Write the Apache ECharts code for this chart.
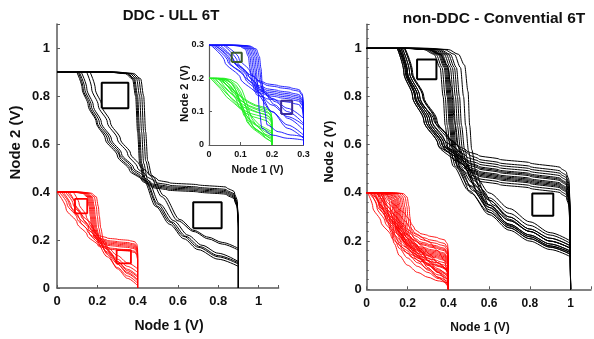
<!DOCTYPE html>
<html><head><meta charset="utf-8">
<script src="https://cdn.jsdelivr.net/npm/echarts/dist/echarts.min.js"></script>
<style>html,body{margin:0;padding:0;background:#fff}#c{width:594px;height:339px}</style>
</head><body><div id="c"></div>
<script>
// ---- tick values / labels ----
const mainTicks = [0, 0.2, 0.4, 0.6, 0.8, 1];
const mainTickText = ['0', '0.2', '0.4', '0.6', '0.8', '1'];
const insetTicks = [0, 0.1, 0.2, 0.3];
const insetTickText = ['0', '0.1', '0.2', '0.3'];

// ---- curves: each is a flat list of [Vin, Vout] pairs ----
// family A drawn as (Vin, Vout), family B (the other inverter) drawn as (Vout, Vin)
const ddcBlackA = [
 [0,0.9,0.25,0.9,0.34,0.893,0.375,0.87,0.39,0.8,0.4,0.65,0.41,0.52,0.43,0.45,0.49,0.34,0.56,0.265,0.63,0.205,0.7,0.16,0.8,0.12,0.9,0.09],
 [0,0.9,0.25,0.9,0.345,0.894,0.38,0.872,0.395,0.8,0.405,0.65,0.415,0.52,0.435,0.45,0.5,0.34,0.56,0.275,0.63,0.215,0.7,0.17,0.8,0.13,0.9,0.1],
 [0,0.9,0.26,0.9,0.35,0.894,0.385,0.872,0.4,0.8,0.41,0.65,0.42,0.52,0.44,0.45,0.5,0.35,0.57,0.275,0.64,0.215,0.71,0.172,0.8,0.135,0.9,0.105],
 [0,0.9,0.27,0.9,0.36,0.894,0.395,0.872,0.41,0.8,0.42,0.65,0.43,0.52,0.45,0.45,0.51,0.35,0.58,0.28,0.65,0.22,0.72,0.178,0.8,0.145,0.9,0.11],
 [0,0.9,0.28,0.9,0.37,0.894,0.405,0.872,0.42,0.8,0.43,0.65,0.44,0.53,0.46,0.47,0.52,0.38,0.6,0.28,0.68,0.235,0.75,0.205,0.82,0.183,0.9,0.158],
 [0,0.9,0.29,0.9,0.38,0.894,0.415,0.872,0.43,0.8,0.44,0.65,0.45,0.53,0.47,0.47,0.53,0.385,0.61,0.285,0.68,0.24,0.75,0.212,0.82,0.19,0.9,0.165]
];
const ddcBlackB = [
 [0,0.9,0.25,0.9,0.33,0.895,0.37,0.88,0.39,0.84,0.4,0.7,0.408,0.55,0.42,0.47,0.45,0.42,0.49,0.36,0.55,0.3,0.62,0.24,0.69,0.195,0.76,0.155,0.83,0.125,0.9,0.098],
 [0,0.9,0.25,0.9,0.335,0.895,0.375,0.88,0.395,0.84,0.405,0.7,0.413,0.55,0.425,0.47,0.455,0.42,0.49,0.37,0.55,0.31,0.62,0.25,0.69,0.2,0.76,0.162,0.83,0.13,0.9,0.105],
 [0,0.9,0.26,0.9,0.34,0.895,0.38,0.88,0.4,0.84,0.41,0.7,0.418,0.55,0.43,0.47,0.46,0.42,0.5,0.37,0.56,0.31,0.62,0.26,0.69,0.21,0.76,0.17,0.83,0.138,0.9,0.11],
 [0,0.9,0.27,0.9,0.345,0.895,0.385,0.88,0.405,0.84,0.415,0.7,0.423,0.55,0.435,0.47,0.465,0.43,0.5,0.38,0.56,0.32,0.62,0.27,0.69,0.22,0.76,0.18,0.83,0.148,0.9,0.12],
 [0,0.9,0.27,0.9,0.35,0.895,0.39,0.88,0.41,0.84,0.42,0.7,0.428,0.56,0.44,0.49,0.47,0.44,0.5,0.4,0.56,0.35,0.62,0.3,0.69,0.25,0.76,0.205,0.83,0.172,0.9,0.147],
 [0,0.9,0.28,0.9,0.36,0.895,0.4,0.88,0.42,0.84,0.43,0.7,0.438,0.56,0.45,0.5,0.48,0.45,0.51,0.41,0.56,0.365,0.62,0.315,0.69,0.265,0.76,0.222,0.83,0.19,0.9,0.164]
];
const ddcRedA = [
 [0,0.4,0.075,0.4,0.125,0.395,0.15,0.38,0.16,0.34,0.165,0.3,0.172,0.25,0.185,0.21,0.25,0.13,0.3,0.085,0.35,0.05,0.4,0.02],
 [0,0.4,0.08,0.4,0.13,0.395,0.155,0.38,0.165,0.34,0.17,0.3,0.177,0.25,0.19,0.21,0.25,0.15,0.3,0.11,0.35,0.078,0.4,0.05],
 [0,0.4,0.085,0.4,0.135,0.395,0.16,0.38,0.17,0.34,0.175,0.3,0.182,0.25,0.195,0.21,0.25,0.145,0.3,0.1,0.35,0.065,0.4,0.035],
 [0,0.4,0.09,0.4,0.14,0.395,0.165,0.38,0.175,0.34,0.18,0.3,0.187,0.25,0.2,0.21,0.25,0.16,0.3,0.12,0.35,0.09,0.4,0.065],
 [0,0.4,0.095,0.4,0.145,0.395,0.17,0.38,0.18,0.34,0.185,0.3,0.192,0.25,0.205,0.21,0.25,0.14,0.3,0.08,0.35,0.04,0.4,0.01],
 [0,0.4,0.1,0.4,0.15,0.395,0.175,0.38,0.185,0.34,0.19,0.3,0.197,0.25,0.21,0.21,0.25,0.17,0.3,0.135,0.35,0.105,0.4,0.08],
 [0,0.4,0.11,0.4,0.16,0.395,0.185,0.38,0.195,0.34,0.2,0.3,0.207,0.25,0.22,0.2,0.26,0.15,0.3,0.11,0.35,0.072,0.4,0.045],
 [0,0.4,0.12,0.4,0.17,0.395,0.195,0.38,0.205,0.34,0.21,0.3,0.217,0.25,0.23,0.2,0.27,0.14,0.3,0.1,0.35,0.06,0.4,0.03]
];
const ddcRedB = [
 [0,0.4,0.115,0.4,0.135,0.397,0.147,0.388,0.153,0.36,0.158,0.3,0.163,0.25,0.175,0.205,0.22,0.15,0.27,0.1,0.33,0.045,0.4,0],
 [0,0.4,0.12,0.4,0.14,0.397,0.152,0.388,0.158,0.36,0.163,0.3,0.168,0.25,0.18,0.205,0.23,0.16,0.28,0.115,0.34,0.07,0.4,0.03],
 [0,0.4,0.13,0.4,0.15,0.397,0.162,0.388,0.168,0.36,0.173,0.3,0.178,0.25,0.19,0.205,0.24,0.15,0.29,0.1,0.35,0.05,0.4,0.01],
 [0,0.4,0.135,0.4,0.155,0.397,0.167,0.388,0.173,0.36,0.178,0.3,0.183,0.25,0.195,0.205,0.24,0.17,0.29,0.13,0.35,0.09,0.4,0.06],
 [0,0.4,0.14,0.4,0.16,0.397,0.172,0.388,0.178,0.36,0.183,0.3,0.188,0.25,0.2,0.205,0.25,0.155,0.3,0.105,0.35,0.06,0.4,0.02],
 [0,0.4,0.145,0.4,0.165,0.397,0.177,0.388,0.183,0.36,0.188,0.3,0.193,0.25,0.205,0.21,0.25,0.18,0.3,0.145,0.35,0.11,0.4,0.08],
 [0,0.4,0.15,0.4,0.17,0.397,0.182,0.388,0.188,0.36,0.193,0.3,0.198,0.25,0.21,0.205,0.26,0.155,0.3,0.12,0.35,0.08,0.4,0.04],
 [0,0.4,0.16,0.4,0.18,0.397,0.192,0.388,0.198,0.36,0.203,0.3,0.208,0.25,0.22,0.205,0.27,0.16,0.31,0.12,0.35,0.09,0.4,0.05]
];
const insetBlueA = [
 [0,0.3,0.06,0.3,0.095,0.297,0.115,0.288,0.125,0.265,0.13,0.23,0.136,0.19,0.146,0.16,0.2,0.1,0.25,0.06,0.3,0.03],
 [0,0.3,0.065,0.3,0.1,0.297,0.12,0.288,0.13,0.265,0.135,0.23,0.141,0.19,0.151,0.16,0.2,0.12,0.25,0.085,0.3,0.06],
 [0,0.3,0.07,0.3,0.105,0.297,0.125,0.288,0.135,0.265,0.14,0.23,0.146,0.19,0.156,0.16,0.2,0.1,0.25,0.05,0.3,0.02],
 [0,0.3,0.075,0.3,0.11,0.297,0.13,0.288,0.14,0.265,0.145,0.23,0.151,0.19,0.161,0.165,0.2,0.14,0.25,0.11,0.3,0.08],
 [0,0.3,0.08,0.3,0.115,0.297,0.135,0.288,0.145,0.265,0.15,0.23,0.155,0.17,0.16,0.1,0.168,0.05,0.2,0.03,0.25,0.02,0.3,0.015],
 [0,0.3,0.085,0.3,0.12,0.297,0.14,0.288,0.15,0.265,0.155,0.23,0.161,0.19,0.171,0.16,0.21,0.12,0.25,0.08,0.3,0.045],
 [0,0.3,0.09,0.3,0.125,0.297,0.145,0.288,0.155,0.265,0.16,0.23,0.166,0.19,0.176,0.16,0.21,0.13,0.25,0.1,0.3,0.065],
 [0,0.3,0.095,0.3,0.13,0.297,0.15,0.288,0.16,0.265,0.165,0.23,0.17,0.17,0.175,0.11,0.185,0.06,0.22,0.04,0.26,0.03,0.3,0.025]
];
const insetBlueB = [
 [0,0.3,0.08,0.3,0.105,0.297,0.12,0.288,0.127,0.26,0.133,0.22,0.14,0.18,0.152,0.15,0.2,0.1,0.25,0.05,0.3,0.005],
 [0,0.3,0.09,0.3,0.115,0.297,0.13,0.288,0.137,0.26,0.143,0.22,0.15,0.18,0.162,0.15,0.2,0.115,0.25,0.065,0.3,0.02],
 [0,0.3,0.095,0.3,0.12,0.297,0.135,0.288,0.142,0.26,0.148,0.22,0.155,0.18,0.167,0.15,0.205,0.12,0.25,0.08,0.3,0.035],
 [0,0.3,0.1,0.3,0.125,0.297,0.14,0.288,0.147,0.26,0.153,0.22,0.16,0.18,0.172,0.15,0.21,0.11,0.25,0.06,0.3,0.01],
 [0,0.3,0.105,0.3,0.13,0.297,0.145,0.288,0.152,0.26,0.158,0.22,0.165,0.18,0.177,0.15,0.21,0.125,0.25,0.09,0.3,0.045],
 [0,0.3,0.11,0.3,0.135,0.297,0.15,0.288,0.157,0.26,0.163,0.22,0.17,0.18,0.182,0.15,0.215,0.12,0.25,0.08,0.3,0.025],
 [0,0.3,0.12,0.3,0.145,0.297,0.16,0.288,0.167,0.26,0.173,0.22,0.18,0.18,0.192,0.155,0.22,0.13,0.26,0.095,0.3,0.05],
 [0,0.3,0.125,0.3,0.15,0.297,0.165,0.288,0.172,0.26,0.178,0.22,0.185,0.18,0.197,0.15,0.225,0.11,0.26,0.065,0.3,0.015]
];
const insetGreenA = [
 [0,0.2,0.03,0.2,0.05,0.197,0.07,0.186,0.085,0.165,0.095,0.14,0.105,0.11,0.115,0.085,0.13,0.06,0.15,0.045,0.175,0.03,0.2,0.02],
 [0,0.2,0.035,0.2,0.058,0.195,0.075,0.183,0.088,0.16,0.1,0.128,0.112,0.1,0.12,0.07,0.138,0.05,0.16,0.035,0.18,0.02,0.2,0.01],
 [0,0.2,0.04,0.199,0.06,0.194,0.078,0.18,0.09,0.168,0.105,0.14,0.115,0.12,0.125,0.1,0.14,0.08,0.16,0.06,0.18,0.05,0.2,0.04],
 [0,0.2,0.025,0.2,0.045,0.196,0.06,0.185,0.075,0.17,0.09,0.15,0.1,0.12,0.11,0.09,0.125,0.075,0.145,0.05,0.17,0.035,0.2,0.025],
 [0,0.2,0.045,0.2,0.065,0.195,0.085,0.18,0.1,0.16,0.11,0.135,0.12,0.105,0.13,0.075,0.14,0.055,0.16,0.04,0.18,0.022,0.2,0.008],
 [0,0.2,0.03,0.199,0.052,0.192,0.068,0.178,0.082,0.158,0.094,0.132,0.106,0.118,0.118,0.09,0.135,0.068,0.155,0.055,0.178,0.04,0.2,0.03],
 [0,0.2,0.05,0.2,0.07,0.196,0.09,0.185,0.105,0.165,0.115,0.14,0.125,0.11,0.135,0.08,0.15,0.06,0.165,0.045,0.185,0.025,0.2,0.015],
 [0,0.2,0.02,0.2,0.04,0.195,0.055,0.182,0.07,0.162,0.085,0.14,0.095,0.115,0.11,0.1,0.125,0.08,0.15,0.06,0.175,0.048,0.2,0.035]
];
const insetGreenB = [
 [0,0.2,0.05,0.2,0.07,0.197,0.08,0.188,0.085,0.17,0.09,0.15,0.095,0.13,0.105,0.11,0.12,0.09,0.14,0.07,0.165,0.05,0.2,0.02],
 [0,0.2,0.06,0.2,0.08,0.196,0.09,0.185,0.095,0.165,0.1,0.145,0.107,0.125,0.118,0.1,0.13,0.085,0.15,0.06,0.17,0.04,0.2,0.01],
 [0,0.2,0.065,0.2,0.085,0.197,0.095,0.19,0.1,0.175,0.105,0.155,0.112,0.135,0.12,0.12,0.135,0.1,0.155,0.08,0.175,0.06,0.2,0.035],
 [0,0.2,0.07,0.2,0.09,0.196,0.1,0.186,0.106,0.17,0.11,0.15,0.118,0.128,0.128,0.11,0.14,0.09,0.158,0.065,0.18,0.04,0.2,0.015],
 [0,0.2,0.075,0.2,0.095,0.197,0.105,0.188,0.11,0.172,0.115,0.155,0.12,0.14,0.13,0.12,0.145,0.1,0.165,0.075,0.185,0.05,0.2,0.04],
 [0,0.2,0.04,0.2,0.06,0.196,0.072,0.185,0.078,0.165,0.085,0.14,0.095,0.118,0.108,0.1,0.125,0.08,0.145,0.055,0.17,0.035,0.2,0.005],
 [0,0.2,0.08,0.2,0.1,0.196,0.11,0.186,0.115,0.168,0.12,0.148,0.128,0.13,0.14,0.11,0.155,0.09,0.17,0.07,0.185,0.05,0.2,0.025],
 [0,0.2,0.055,0.2,0.075,0.197,0.085,0.19,0.092,0.175,0.098,0.155,0.105,0.138,0.115,0.118,0.13,0.095,0.15,0.075,0.175,0.05,0.2,0.03]
];
const convBlackA = [
 [0,1,0.18,1,0.28,0.995,0.33,0.975,0.36,0.92,0.375,0.8,0.385,0.68,0.4,0.58,0.425,0.51,0.5,0.41,0.6,0.32,0.7,0.255,0.8,0.21,0.9,0.175,1,0.145],
 [0,1,0.19,1,0.29,0.995,0.34,0.975,0.37,0.92,0.385,0.8,0.395,0.68,0.41,0.58,0.435,0.51,0.5,0.43,0.6,0.34,0.7,0.27,0.8,0.225,0.9,0.188,1,0.158],
 [0,1,0.2,1,0.3,0.995,0.35,0.975,0.38,0.92,0.395,0.8,0.405,0.68,0.42,0.58,0.445,0.51,0.51,0.43,0.6,0.35,0.7,0.285,0.8,0.24,0.9,0.2,1,0.17],
 [0,1,0.2,1,0.305,0.995,0.355,0.975,0.385,0.92,0.4,0.8,0.41,0.68,0.425,0.58,0.45,0.5,0.51,0.4,0.6,0.31,0.7,0.245,0.8,0.2,0.9,0.165,1,0.135],
 [0,1,0.21,1,0.31,0.995,0.36,0.975,0.39,0.92,0.405,0.8,0.415,0.68,0.43,0.58,0.455,0.51,0.52,0.44,0.6,0.37,0.7,0.3,0.8,0.25,0.9,0.212,1,0.18],
 [0,1,0.215,1,0.315,0.995,0.365,0.975,0.395,0.92,0.41,0.8,0.42,0.68,0.435,0.58,0.46,0.5,0.52,0.41,0.6,0.33,0.7,0.262,0.8,0.218,0.9,0.18,1,0.152],
 [0,1,0.22,1,0.32,0.995,0.37,0.975,0.4,0.92,0.415,0.8,0.425,0.68,0.44,0.58,0.465,0.52,0.53,0.45,0.6,0.38,0.7,0.315,0.8,0.265,0.9,0.225,1,0.19],
 [0,1,0.2,1,0.3,0.995,0.36,0.975,0.395,0.93,0.415,0.84,0.43,0.7,0.445,0.6,0.47,0.52,0.53,0.43,0.6,0.35,0.7,0.285,0.8,0.24,0.9,0.2,1,0.17],
 [0,1,0.23,1,0.33,0.995,0.38,0.975,0.41,0.92,0.425,0.8,0.435,0.68,0.45,0.59,0.475,0.53,0.54,0.46,0.6,0.4,0.7,0.335,0.8,0.28,0.9,0.235,1,0.2],
 [0,1,0.24,1,0.34,0.995,0.39,0.975,0.42,0.92,0.435,0.8,0.445,0.68,0.46,0.58,0.485,0.5,0.54,0.41,0.6,0.34,0.7,0.27,0.8,0.225,0.9,0.188,1,0.158],
 [0,1,0.25,1,0.35,0.995,0.4,0.975,0.43,0.92,0.445,0.8,0.455,0.68,0.47,0.58,0.495,0.5,0.55,0.39,0.6,0.32,0.7,0.255,0.8,0.21,0.9,0.175,1,0.145],
 [0,1,0.26,1,0.36,0.995,0.41,0.975,0.44,0.92,0.455,0.8,0.465,0.68,0.48,0.58,0.505,0.5,0.55,0.43,0.6,0.37,0.7,0.3,0.8,0.25,0.9,0.212,1,0.18],
 [0,1,0.28,1,0.38,0.995,0.43,0.975,0.46,0.92,0.475,0.8,0.485,0.68,0.5,0.57,0.52,0.49,0.56,0.41,0.6,0.35,0.7,0.265,0.8,0.218,0.9,0.18,1,0.152],
 [0,1,0.3,1,0.4,0.995,0.45,0.975,0.48,0.93,0.497,0.82,0.505,0.68,0.515,0.58,0.535,0.49,0.57,0.41,0.62,0.35,0.7,0.29,0.8,0.24,0.9,0.2,1,0.17]
];
const convBlackB = [
 [0,1,0.22,0.998,0.34,0.993,0.38,0.98,0.4,0.95,0.42,0.8,0.435,0.65,0.45,0.55,0.47,0.5,0.52,0.44,0.6,0.35,0.7,0.28,0.8,0.225,0.9,0.182,1,0.15],
 [0,1,0.23,0.998,0.35,0.993,0.39,0.98,0.41,0.95,0.43,0.8,0.445,0.65,0.46,0.55,0.48,0.5,0.53,0.45,0.6,0.37,0.7,0.3,0.8,0.24,0.9,0.195,1,0.16],
 [0,1,0.24,0.998,0.36,0.993,0.4,0.98,0.42,0.95,0.44,0.8,0.455,0.65,0.47,0.55,0.49,0.5,0.54,0.45,0.6,0.38,0.7,0.31,0.8,0.25,0.9,0.2,1,0.168],
 [0,1,0.245,0.998,0.365,0.993,0.405,0.98,0.425,0.95,0.445,0.8,0.46,0.65,0.475,0.55,0.495,0.5,0.54,0.44,0.6,0.36,0.7,0.29,0.8,0.235,0.9,0.19,1,0.155],
 [0,1,0.25,0.998,0.37,0.993,0.41,0.98,0.43,0.95,0.45,0.8,0.465,0.65,0.48,0.55,0.5,0.5,0.55,0.45,0.6,0.39,0.7,0.32,0.8,0.26,0.9,0.21,1,0.175],
 [0,1,0.255,0.998,0.375,0.993,0.415,0.98,0.435,0.95,0.455,0.8,0.47,0.65,0.485,0.55,0.505,0.49,0.55,0.42,0.6,0.35,0.7,0.28,0.8,0.225,0.9,0.182,1,0.15],
 [0,1,0.26,0.998,0.38,0.993,0.42,0.98,0.44,0.95,0.46,0.8,0.475,0.65,0.49,0.55,0.51,0.5,0.55,0.46,0.6,0.41,0.7,0.335,0.8,0.275,0.9,0.22,1,0.185],
 [0,1,0.27,0.998,0.39,0.993,0.43,0.98,0.45,0.95,0.47,0.8,0.485,0.65,0.5,0.55,0.52,0.49,0.56,0.43,0.6,0.37,0.7,0.3,0.8,0.24,0.9,0.195,1,0.16],
 [0,1,0.275,0.998,0.395,0.993,0.435,0.98,0.455,0.95,0.475,0.8,0.49,0.65,0.505,0.55,0.525,0.5,0.56,0.47,0.6,0.42,0.7,0.345,0.8,0.28,0.9,0.225,1,0.188],
 [0,1,0.28,0.998,0.4,0.993,0.44,0.98,0.46,0.95,0.48,0.8,0.495,0.65,0.51,0.55,0.53,0.49,0.565,0.44,0.6,0.38,0.7,0.31,0.8,0.25,0.9,0.2,1,0.168],
 [0,1,0.29,0.998,0.41,0.993,0.45,0.98,0.47,0.95,0.49,0.8,0.505,0.65,0.52,0.55,0.54,0.48,0.57,0.42,0.6,0.37,0.7,0.29,0.8,0.235,0.9,0.19,1,0.155],
 [0,1,0.3,0.998,0.42,0.993,0.46,0.98,0.48,0.95,0.5,0.8,0.515,0.65,0.53,0.55,0.55,0.49,0.58,0.44,0.62,0.38,0.7,0.32,0.8,0.26,0.9,0.21,1,0.175],
 [0,1,0.31,0.998,0.43,0.993,0.47,0.98,0.49,0.95,0.51,0.8,0.525,0.65,0.54,0.55,0.56,0.5,0.59,0.45,0.63,0.4,0.7,0.34,0.8,0.275,0.9,0.22,1,0.185],
 [0,1,0.325,0.998,0.445,0.993,0.485,0.98,0.505,0.95,0.525,0.8,0.54,0.65,0.555,0.55,0.575,0.49,0.6,0.44,0.64,0.39,0.7,0.33,0.8,0.25,0.9,0.2,1,0.16]
];
const convRedA = [
 [0,0.4,0.01,0.4,0.04,0.385,0.07,0.35,0.1,0.29,0.12,0.235,0.135,0.19,0.16,0.14,0.2,0.1,0.25,0.07,0.3,0.05,0.35,0.035,0.4,0.025],
 [0,0.4,0.03,0.4,0.07,0.39,0.095,0.36,0.11,0.3,0.12,0.25,0.135,0.21,0.16,0.17,0.2,0.13,0.25,0.095,0.3,0.07,0.35,0.045,0.4,0.02],
 [0,0.4,0.05,0.4,0.09,0.39,0.11,0.365,0.122,0.31,0.13,0.26,0.14,0.22,0.165,0.18,0.2,0.15,0.25,0.11,0.3,0.085,0.35,0.06,0.4,0.04],
 [0,0.4,0.06,0.4,0.1,0.392,0.12,0.37,0.13,0.32,0.137,0.27,0.148,0.23,0.17,0.2,0.2,0.17,0.25,0.13,0.3,0.1,0.35,0.075,0.4,0.055],
 [0,0.4,0.07,0.4,0.105,0.393,0.125,0.37,0.135,0.33,0.14,0.28,0.15,0.24,0.17,0.21,0.2,0.18,0.25,0.14,0.3,0.105,0.35,0.08,0.4,0.06],
 [0,0.4,0.075,0.4,0.11,0.394,0.13,0.372,0.14,0.33,0.147,0.28,0.158,0.235,0.18,0.2,0.21,0.16,0.25,0.12,0.3,0.08,0.35,0.05,0.4,0.03],
 [0,0.4,0.08,0.4,0.115,0.395,0.135,0.375,0.145,0.33,0.15,0.28,0.16,0.24,0.18,0.21,0.21,0.18,0.25,0.15,0.3,0.12,0.35,0.095,0.4,0.075],
 [0,0.4,0.085,0.4,0.12,0.395,0.14,0.375,0.15,0.33,0.155,0.28,0.165,0.235,0.185,0.2,0.21,0.17,0.25,0.135,0.3,0.1,0.35,0.07,0.4,0.045],
 [0,0.4,0.09,0.4,0.125,0.396,0.145,0.378,0.155,0.335,0.16,0.285,0.17,0.24,0.19,0.205,0.22,0.17,0.26,0.13,0.3,0.09,0.35,0.05,0.4,0.01],
 [0,0.4,0.095,0.4,0.13,0.396,0.15,0.378,0.16,0.335,0.165,0.285,0.175,0.245,0.195,0.215,0.22,0.19,0.26,0.16,0.3,0.13,0.35,0.1,0.4,0.08],
 [0,0.4,0.1,0.4,0.135,0.396,0.155,0.38,0.165,0.34,0.17,0.29,0.178,0.25,0.195,0.215,0.22,0.18,0.26,0.14,0.3,0.105,0.35,0.07,0.4,0.035],
 [0,0.4,0.11,0.4,0.145,0.396,0.163,0.38,0.172,0.34,0.177,0.29,0.185,0.25,0.2,0.22,0.23,0.19,0.26,0.16,0.3,0.12,0.35,0.085,0.4,0.05],
 [0,0.4,0.12,0.4,0.15,0.396,0.17,0.38,0.18,0.34,0.185,0.29,0.192,0.25,0.205,0.22,0.23,0.195,0.26,0.17,0.3,0.14,0.35,0.11,0.4,0.07],
 [0,0.4,0.13,0.4,0.16,0.397,0.178,0.382,0.188,0.34,0.193,0.29,0.2,0.25,0.212,0.22,0.24,0.19,0.27,0.155,0.31,0.11,0.35,0.07,0.4,0.015],
 [0,0.4,0.14,0.4,0.17,0.397,0.188,0.383,0.197,0.345,0.202,0.3,0.208,0.26,0.218,0.23,0.24,0.205,0.27,0.18,0.31,0.145,0.35,0.11,0.4,0.065],
 [0,0.4,0.15,0.4,0.18,0.397,0.198,0.383,0.207,0.345,0.212,0.3,0.216,0.26,0.225,0.235,0.25,0.225,0.3,0.2,0.35,0.16,0.38,0.12,0.4,0.04]
];
const convRedB = [
 [0,0.4,0.04,0.4,0.07,0.397,0.088,0.385,0.098,0.35,0.108,0.3,0.12,0.25,0.14,0.21,0.17,0.17,0.22,0.12,0.28,0.07,0.34,0.03,0.4,0.005],
 [0,0.4,0.05,0.4,0.08,0.397,0.098,0.385,0.108,0.35,0.118,0.3,0.13,0.25,0.15,0.21,0.18,0.17,0.23,0.13,0.28,0.09,0.34,0.05,0.4,0.02],
 [0,0.4,0.06,0.4,0.09,0.397,0.108,0.385,0.118,0.35,0.128,0.3,0.14,0.25,0.16,0.21,0.19,0.17,0.24,0.13,0.29,0.095,0.35,0.06,0.4,0.035],
 [0,0.4,0.07,0.4,0.1,0.397,0.118,0.385,0.128,0.35,0.138,0.3,0.15,0.25,0.17,0.215,0.2,0.18,0.25,0.14,0.3,0.1,0.35,0.07,0.4,0.05],
 [0,0.4,0.075,0.4,0.105,0.397,0.123,0.385,0.133,0.35,0.143,0.3,0.155,0.255,0.175,0.22,0.2,0.19,0.25,0.15,0.3,0.11,0.35,0.075,0.4,0.06],
 [0,0.4,0.08,0.4,0.11,0.397,0.128,0.385,0.138,0.35,0.148,0.3,0.16,0.25,0.18,0.21,0.21,0.17,0.25,0.13,0.3,0.09,0.35,0.05,0.4,0.01],
 [0,0.4,0.085,0.4,0.115,0.397,0.133,0.385,0.143,0.35,0.153,0.3,0.165,0.25,0.185,0.215,0.21,0.185,0.25,0.15,0.3,0.115,0.35,0.085,0.4,0.07],
 [0,0.4,0.09,0.4,0.12,0.397,0.138,0.385,0.148,0.35,0.158,0.3,0.17,0.25,0.19,0.215,0.22,0.18,0.26,0.14,0.3,0.1,0.35,0.065,0.4,0.04],
 [0,0.4,0.095,0.4,0.125,0.397,0.143,0.385,0.153,0.35,0.163,0.3,0.175,0.25,0.195,0.22,0.22,0.19,0.26,0.155,0.3,0.125,0.35,0.09,0.4,0.08],
 [0,0.4,0.1,0.4,0.13,0.397,0.148,0.385,0.158,0.35,0.168,0.3,0.18,0.25,0.2,0.215,0.23,0.18,0.27,0.14,0.31,0.1,0.35,0.06,0.4,0.025],
 [0,0.4,0.11,0.4,0.14,0.397,0.158,0.385,0.168,0.35,0.178,0.3,0.19,0.255,0.21,0.22,0.24,0.19,0.27,0.16,0.31,0.12,0.35,0.085,0.4,0.05],
 [0,0.4,0.115,0.4,0.145,0.397,0.163,0.385,0.173,0.35,0.183,0.3,0.195,0.25,0.215,0.215,0.24,0.18,0.28,0.14,0.32,0.1,0.36,0.06,0.4,0.03],
 [0,0.4,0.12,0.4,0.15,0.397,0.168,0.385,0.178,0.35,0.188,0.3,0.2,0.255,0.22,0.225,0.25,0.19,0.28,0.16,0.32,0.125,0.36,0.09,0.4,0.065],
 [0,0.4,0.13,0.4,0.16,0.397,0.178,0.385,0.188,0.35,0.198,0.3,0.21,0.26,0.23,0.225,0.26,0.19,0.29,0.155,0.33,0.115,0.37,0.075,0.4,0.045],
 [0,0.4,0.14,0.4,0.17,0.397,0.188,0.385,0.198,0.35,0.208,0.3,0.22,0.26,0.24,0.23,0.27,0.2,0.3,0.17,0.33,0.135,0.37,0.095,0.4,0.07],
 [0,0.4,0.155,0.4,0.185,0.397,0.203,0.385,0.213,0.35,0.223,0.3,0.233,0.26,0.25,0.235,0.28,0.215,0.31,0.19,0.34,0.15,0.37,0.11,0.4,0.09]
];

// ---- noise-margin squares: [x1, y1, x2, y2] ----
const ddcBlackSquares = [[0.222,0.749,0.354,0.855],[0.676,0.249,0.817,0.357]];
const ddcRedSquares = [[0.089,0.311,0.150,0.371],[0.296,0.103,0.367,0.158]];
const insetGreenSquare = [[0.072,0.249,0.104,0.277]];
const insetBlueSquare = [[0.229,0.093,0.264,0.133]];
const convBlackSquares = [[0.247,0.872,0.342,0.954],[0.812,0.305,0.915,0.398]];

// ---- build ----
const FF = '"Liberation Sans", Arial, Helvetica, sans-serif';
function pairs(flat){const o=[];for(let i=0;i<flat.length;i+=2)o.push([flat[i],flat[i+1]]);return o;}
function fmt(ticks,texts){return function(v){for(let i=0;i<ticks.length;i++){if(Math.abs(ticks[i]-v)<1e-6)return texts[i];}return '';};}
const series = [];
function addCurves(list, swap, gi, color, width, smooth){
  list.forEach(function(flat){
    let d = pairs(flat);
    if (swap) d = d.map(function(p){return [p[1],p[0]];});
    series.push({type:'line', xAxisIndex:gi, yAxisIndex:gi, data:d, symbol:'none', showSymbol:false,
      smooth: smooth, smoothMonotone: swap ? 'y' : 'x', silent:true, animation:false,
      lineStyle:{color:color, width:width}, z:2});
  });
}
function addSquares(list, gi, color, width){
  list.forEach(function(r){
    series.push({type:'line', xAxisIndex:gi, yAxisIndex:gi, symbol:'none', showSymbol:false, silent:true, animation:false,
      data:[[r[0],r[1]],[r[2],r[1]],[r[2],r[3]],[r[0],r[3]],[r[0],r[1]]],
      lineStyle:{color:color, width:width}, z:5});
  });
}
addCurves(ddcRedA, false, 0, '#ff0000', 0.9, 0.3);
addCurves(ddcRedB, true, 0, '#ff0000', 0.9, 0.3);
addCurves(ddcBlackA, false, 0, '#000000', 1, 0.3);
addCurves(ddcBlackB, true, 0, '#000000', 1, 0.3);
addCurves(convRedA, false, 1, '#ff0000', 0.9, 0.3);
addCurves(convRedB, true, 1, '#ff0000', 0.9, 0.3);
addCurves(convBlackA, false, 1, '#000000', 1, 0.3);
addCurves(convBlackB, true, 1, '#000000', 1, 0.3);
addCurves(insetGreenA, false, 2, '#22ee22', 0.9, false);
addCurves(insetGreenB, true, 2, '#22ee22', 0.9, false);
addCurves(insetBlueA, false, 2, '#1010ff', 0.9, 0.3);
addCurves(insetBlueB, true, 2, '#1010ff', 0.9, 0.3);
addSquares(ddcBlackSquares, 0, '#000000', 2);
addSquares(ddcRedSquares, 0, '#ff0000', 1.8);
addSquares(insetGreenSquare, 2, '#3b5b2b', 2);
addSquares(insetBlueSquare, 2, '#3b2b9b', 2);
addSquares(convBlackSquares, 1, '#000000', 2);

function axis(gi, max, interval, ticks, texts, fs, margin, minor, lw){
  return {type:'value', gridIndex:gi, min:0, max:max, interval:interval,
    axisLine:{show:true, onZero:false, lineStyle:{color:'#5a5a5a', width:lw}},
    axisTick:{show:true, inside:true, length:3, lineStyle:{color:'#5a5a5a', width:1}},
    minorTick:{show:!!minor, splitNumber:5, length:2, lineStyle:{color:'#5a5a5a', width:1}},
    splitLine:{show:false}, minorSplitLine:{show:false},
    axisLabel:{formatter:fmt(ticks,texts), fontSize:fs, fontWeight:'bold', color:'#111', margin:margin, fontFamily:FF}};
}

function txt(x,y,s,fs,rot){
  return {type:'text', x:x, y:y, rotation:rot||0, silent:true,
    style:{text:s, fontSize:fs, fontWeight:'bold', fontFamily:FF, fill:'#111', align:'center', verticalAlign:'middle'}};
}

const chart = echarts.init(document.getElementById('c'), null, {renderer:'canvas'});
chart.setOption({
  animation:false,
  backgroundColor:'#ffffff',
  grid:[
    {left:57, top:24, width:221.65, height:264},
    {left:366.7, top:24.2, width:230.2, height:265.1},
    {left:209, top:45, width:94.5, height:100}
  ],
  xAxis:[
    axis(0, 1.1, 0.2, mainTicks, mainTickText, 13, 7, false, 1.5),
    axis(1, 1.1, 0.2, mainTicks, mainTickText, 12, 8, false, 1.5),
    axis(2, 0.3, 0.1, insetTicks, insetTickText, 9, 5, false, 1.2)
  ],
  yAxis:[
    axis(0, 1.1, 0.2, mainTicks, mainTickText, 13, 7, false, 1.5),
    axis(1, 1.1, 0.2, mainTicks, mainTickText, 13, 5, true, 1.5),
    axis(2, 0.3, 0.1, insetTicks, insetTickText, 9, 5, false, 1.2)
  ],
  graphic:[
    txt(171, 16, 'DDC - ULL 6T', 15),
    txt(494, 19, 'non-DDC - Convential 6T', 15.5),
    txt(169, 326, 'Node 1 (V)', 14),
    txt(16, 142.5, 'Node 2 (V)', 15, Math.PI/2),
    txt(480, 328, 'Node 1 (V)', 12),
    txt(330, 151.5, 'Node 2 (V)', 12.5, Math.PI/2),
    txt(257.5, 170, 'Node 1 (V)', 10.5),
    txt(185, 93.5, 'Node 2 (V)', 11.5, Math.PI/2)
  ],
  series: series
});
</script></body></html>
